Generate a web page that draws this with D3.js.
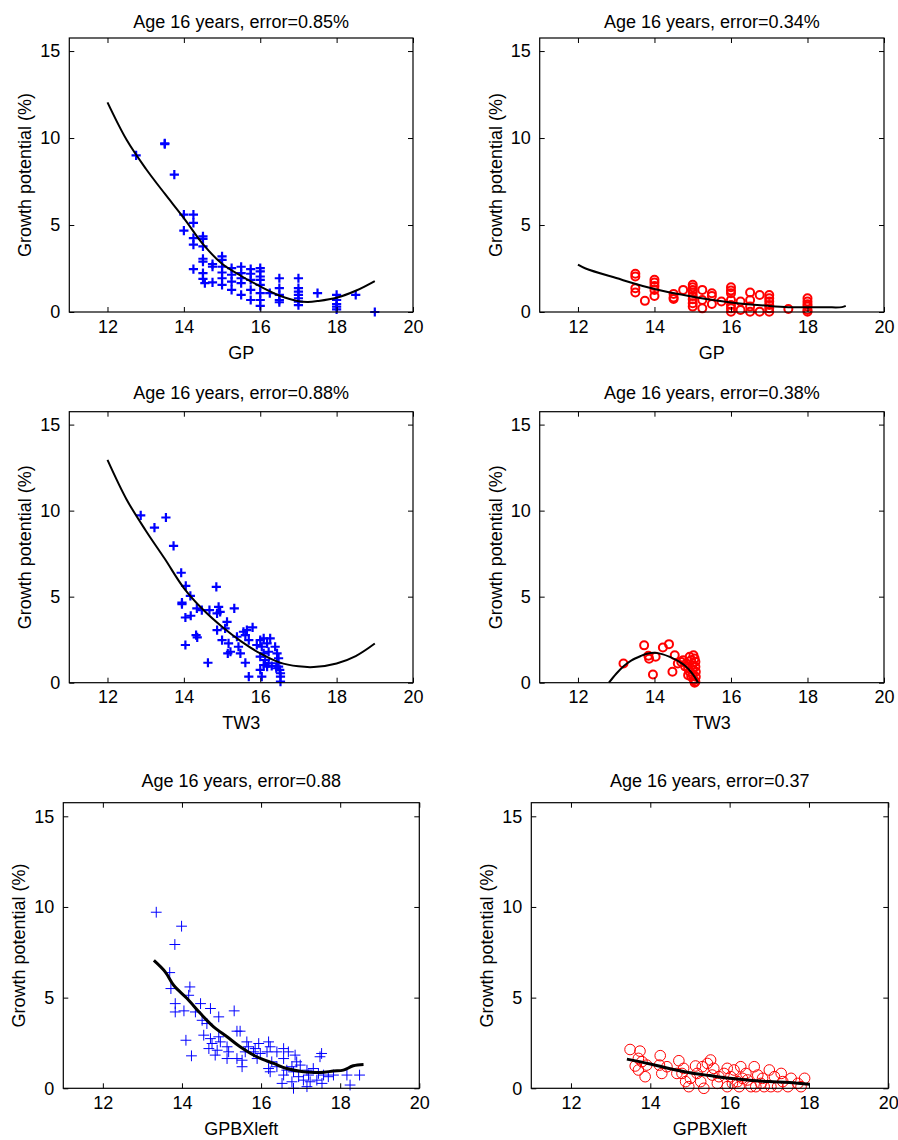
<!DOCTYPE html>
<html>
<head>
<meta charset="utf-8">
<script src="https://cdn.jsdelivr.net/npm/d3@7"></script>
<style>
  html, body { margin: 0; padding: 0; background: #fff; }
  svg { display: block; }
  text { font-family: "Liberation Sans", Arial, Helvetica, sans-serif; fill: #000; }
</style>
</head>
<body>
<svg id="chart" width="898" height="1140"></svg>
<script>
// ---------------- DATA ----------------
const xTicks = [12, 14, 16, 18, 20];
const yTicks = [0, 5, 10, 15];
const xDomain = [11, 20];
const yDomain = [0, 15.75];
const yAxisLabel = "Growth potential (%)";

const titles = [
  "Age 16 years, error=0.85%", "Age 16 years, error=0.34%",
  "Age 16 years, error=0.88%", "Age 16 years, error=0.38%",
  "Age 16 years, error=0.88",  "Age 16 years, error=0.37"
];
const xLabels = ["GP", "GP", "TW3", "TW3", "GPBXleft", "GPBXleft"];

// Panel 1: GP, blue +
const gpBlueX = [12.75,13.5,13.5,13.75,14,14,14.25,14.25,14.25,14.25,14.25,14.5,14.5,14.5,14.5,14.5,14.5,14.5,14.55,14.75,14.75,14.75,15,15,15,15,15,15,15.25,15.25,15.25,15.25,15.5,15.5,15.5,15.5,15.5,15.75,15.75,15.75,15.75,15.75,16,16,16,16,16,16,16,16,16.25,16.5,16.5,16.5,16.5,16.5,17,17,17,17,17,17,17,17.5,18,18,18,18,18,18.5,19];
const gpBlueY = [9.0,9.7,9.65,7.9,5.6,4.68,5.6,5.12,4.25,3.87,2.46,4.35,4.2,3.77,3.06,2.9,2.23,1.9,1.66,2.75,2.6,1.7,3.2,3.0,2.6,2.27,1.94,1.56,2.52,2.14,1.75,1.27,2.6,2.23,1.94,1.66,0.98,2.46,2.2,1.85,1.27,0.69,2.52,2.33,2.04,1.85,1.56,1.08,0.69,0.35,1.08,1.94,1.37,0.98,0.69,0.56,1.94,1.37,1.17,0.98,0.79,0.6,0.4,1.08,0.98,0.69,0.46,0.31,0.15,0.98,0.0];
const gpBlueFitX = [12, 12.5, 13, 13.5, 14, 14.5, 15, 15.5, 16, 16.5, 17, 17.25, 17.5, 18, 18.5, 19];
const gpBlueFitY = [12.05, 9.9, 8.25, 6.8, 5.4, 3.9, 2.77, 2.07, 1.47, 0.95, 0.62, 0.58, 0.63, 0.82, 1.22, 1.78];

// Panel 2: GP, red o
const gpRedX = [13.5,13.5,13.5,13.5,13.75,14,14,14,14,14,14.5,14.5,14.5,14.75,15,15,15,15,15,15,15,15,15.25,15.25,15.25,15.5,15.5,15.5,15.75,16,16,16,16,16,16,16,16.25,16.25,16.5,16.5,16.5,16.5,16.75,16.75,17,17,17,17,17,17,17.5,18,18,18,18,18,18];
const gpRedY = [2.2,2.04,1.37,1.12,0.64,1.85,1.69,1.5,1.27,0.92,1.04,0.83,0.75,1.27,1.56,1.42,1.27,1.12,0.92,0.73,0.5,0.31,1.27,0.69,0.21,1.08,0.92,0.46,0.6,1.42,1.23,1.08,0.69,0.4,0.21,0.02,0.6,0.12,1.12,0.69,0.31,0.02,0.98,0.02,0.98,0.79,0.6,0.4,0.21,0.02,0.17,0.79,0.6,0.44,0.31,0.12,0.02];
const gpRedFitX = [12, 12.2, 13, 14, 15, 16, 17, 17.5, 18, 18.5, 18.9, 19];
const gpRedFitY = [2.72, 2.5, 1.95, 1.32, 0.88, 0.55, 0.35, 0.28, 0.27, 0.27, 0.28, 0.35];

// Panel 3: TW3, blue +
const tw3BlueX = [12.87,13.53,13.23,13.73,13.93,14.05,14.85,14.17,13.95,13.95,14.34,14.47,14.67,14.91,14.95,15.32,14.04,14.18,14.32,14.35,14.04,14.63,14.87,14.87,15.13,15.08,15.0,15.17,15.15,15.22,15.39,15.43,15.48,15.56,15.61,15.65,15.7,15.8,15.61,15.7,15.91,16.0,16.04,16.09,16.18,16.09,16.22,16.0,16.13,16.09,16.22,16.0,16.04,16.26,16.39,16.44,16.48,16.44,16.48,16.51,16.53,16.53,16.53,16.42,16.3,16.18];
const tw3BlueY = [9.73,9.6,9.01,7.95,6.39,5.63,5.57,5.05,4.66,4.57,4.32,4.22,4.22,4.41,4.12,4.32,3.79,3.89,2.77,2.63,2.19,1.16,3.06,4.03,3.54,3.16,2.48,2.29,1.71,1.8,2.67,2.09,1.71,2.96,2.77,3.06,2.48,3.21,1.16,0.35,2.19,2.48,2.09,2.58,2.29,1.71,1.8,1.51,1.32,1.03,1.13,0.74,0.35,2.58,2.09,1.71,1.42,1.13,0.93,0.74,0.55,0.35,0.06,0.84,0.97,0.93];
const tw3BlueFitX = [12, 12.5, 13, 13.5, 14, 14.5, 15, 15.5, 16, 16.5, 17, 17.4, 18, 18.5, 19];
const tw3BlueFitY = [12.95, 10.65, 8.85, 7.2, 5.5, 4.25, 3.25, 2.4, 1.7, 1.18, 0.95, 0.91, 1.12, 1.55, 2.28];

// Panel 4: TW3, red o
const tw3RedX = [13.19,13.73,13.86,13.84,14.03,13.96,14.22,14.38,14.47,14.53,14.61,14.75,14.83,14.88,14.92,14.96,14.99,15.0,15.0,15.03,15.05,15.02,15.05,15.07,15.07,15.08,15.08,15.07,14.96,14.92,14.88,14.8,14.7];
const tw3RedY = [1.12,2.17,1.39,1.57,1.51,0.48,2.05,2.24,0.64,1.6,1.12,1.31,1.12,0.83,1.51,1.31,1.02,0.73,0.44,0.15,0.0,1.6,1.41,1.22,0.93,0.64,0.35,0.06,0.35,0.64,0.44,0.95,1.2];
const tw3RedFitX = [12.81, 13.0, 13.2, 13.4, 13.64, 13.8, 14.0, 14.2, 14.4, 14.6, 14.8, 15.0, 15.14];
const tw3RedFitY = [0, 0.52, 0.97, 1.3, 1.55, 1.68, 1.74, 1.66, 1.5, 1.28, 0.98, 0.5, 0];

// Panel 5: GPBXleft, blue +
const bxBlueX = [13.35,13.99,13.82,13.69,13.72,14.2,14.17,13.83,13.83,14.05,14.47,14.34,14.72,14.93,15.32,14.51,14.63,14.55,14.72,14.76,14.93,14.97,14.68,14.89,14.84,15.14,15.18,15.14,15.39,15.47,14.1,14.24,15.39,15.52,15.52,15.64,15.68,15.6,15.81,15.85,15.94,15.98,15.9,16.19,16.23,16.15,16.19,16.23,16.4,16.57,16.69,16.57,16.86,16.9,16.78,16.99,16.82,16.95,17.16,17.2,17.32,17.45,17.53,17.49,17.58,17.7,17.07,17.24,17.41,17.16,17.54,16.78,16.53,16.82,16.57,18.17,18.49,18.25,17.83,16.65,16.27,16.4];
const bxBlueY = [9.71,8.94,7.93,6.38,5.5,5.59,5.13,4.67,4.21,4.27,4.67,4.21,4.4,3.94,4.27,3.75,3.57,2.93,2.74,2.47,2.84,2.56,2.19,2.1,1.83,2.29,2.01,1.64,3.15,3.15,2.65,1.79,1.64,1.55,1.19,2.56,2.29,2.01,2.01,2.19,2.47,1.92,1.64,2.56,2.29,2.01,1.09,0.91,2.01,2.19,2.01,1.64,1.83,1.46,1.19,1.28,0.91,0.64,1.0,0.73,1.09,0.82,1.92,1.74,0.73,0.64,0.45,0.36,0.45,0.09,0.27,0.36,0.27,0.0,0.73,0.73,0.73,0.18,0.73,1.0,1.46,1.19];
const bxBlueFitX = [13.29, 13.58, 13.79, 14.13, 14.47, 14.8, 15.14, 15.47, 15.89, 16.32, 16.65, 17.07, 17.49, 17.83, 18.08, 18.33, 18.59];
const bxBlueFitY = [7.05, 6.41, 5.68, 4.95, 4.12, 3.39, 2.84, 2.29, 1.74, 1.37, 1.09, 0.91, 0.87, 0.95, 1.0, 1.24, 1.31];

// Panel 6: GPBXleft, red o
const bxRedX = [13.49,13.74,13.7,13.79,13.62,13.91,13.7,13.87,14.25,14.23,14.42,14.29,14.72,14.8,14.89,15.01,14.97,15.14,15.31,15.18,15.27,15.35,15.44,15.52,15.6,15.56,15.69,15.86,15.94,16.03,16.11,16.2,16.24,16.28,16.41,16.45,16.54,16.62,16.71,16.79,16.83,17.0,17.04,17.13,17.3,17.34,17.47,17.55,17.8,17.89,14.67,14.84,15.73,15.94,16.07,16.32,16.66,16.87,17.21,17.72];
const bxRedY = [2.14,2.05,1.65,1.47,1.23,1.28,1.01,0.64,1.8,1.28,1.19,0.82,1.52,0.82,0.37,0.55,0.09,1.23,1.19,0.82,0.37,0.0,1.37,1.56,1.1,0.73,0.27,0.82,1.1,0.64,1.01,0.37,0.09,1.19,0.82,0.46,0.09,1.19,0.73,0.27,0.55,1.01,0.09,0.64,0.82,0.37,0.09,0.55,0.09,0.55,0.82,1.1,0.64,0.09,0.27,0.55,0.09,0.09,0.09,0.27];
const bxRedFitX = [13.41, 14, 14.5, 15, 15.5, 16, 16.5, 17, 17.5, 18.02];
const bxRedFitY = [1.61, 1.34, 1.08, 0.86, 0.7, 0.55, 0.44, 0.37, 0.32, 0.22];

// ---------------- PANELS ----------------
const panels = [
  {xs: gpBlueX, ys: gpBlueY, fx: gpBlueFitX, fy: gpBlueFitY, marker: "plus", color: "#0000ff", bold: true},
  {xs: gpRedX, ys: gpRedY, fx: gpRedFitX, fy: gpRedFitY, marker: "circle", color: "#ff0000", bold: true},
  {xs: tw3BlueX, ys: tw3BlueY, fx: tw3BlueFitX, fy: tw3BlueFitY, marker: "plus", color: "#0000ff", bold: true},
  {xs: tw3RedX, ys: tw3RedY, fx: tw3RedFitX, fy: tw3RedFitY, marker: "circle", color: "#ff0000", bold: true},
  {xs: bxBlueX, ys: bxBlueY, fx: bxBlueFitX, fy: bxBlueFitY, marker: "plus", color: "#0000ff", bold: false},
  {xs: bxRedX, ys: bxRedY, fx: bxRedFitX, fy: bxRedFitY, marker: "circle", color: "#ff0000", bold: false}
];
// layout boxes (pixels)
const boxes = [
  {l: 69.3, r: 413, t: 38, b: 312, tOff: 10.5},
  {l: 539.7, r: 884, t: 38, b: 312, tOff: 10.5},
  {l: 69.3, r: 413, t: 411.7, b: 682.7, tOff: 12.7},
  {l: 539.7, r: 884, t: 411.7, b: 682.7, tOff: 12.7},
  {l: 63.3, r: 419.3, t: 802.7, b: 1088.3, tOff: 15.7},
  {l: 531.3, r: 888.3, t: 802.7, b: 1088.3, tOff: 15.7}
];

const svg = d3.select("#chart");
const FS = 18;
const tickLen = 5;

panels.forEach((p, i) => {
  const bx = boxes[i];
  const x = d3.scaleLinear().domain(xDomain).range([bx.l, bx.r]);
  const y = d3.scaleLinear().domain(yDomain).range([bx.b, bx.t]);
  const g = svg.append("g");

  // data markers
  const mg = g.append("g");
  const pts = p.xs.map((v, k) => [v, p.ys[k]]);
  if (p.marker === "plus") {
    const h = p.bold ? 4.6 : 5.4;
    mg.selectAll("path").data(pts).join("path")
      .attr("d", d => {
        const cx = x(d[0]), cy = y(d[1]);
        return `M${cx - h},${cy}H${cx + h}M${cx},${cy - h}V${cy + h}`;
      })
      .attr("stroke", p.color)
      .attr("stroke-width", p.bold ? 2.2 : 1)
      .attr("fill", "none");
  } else {
    mg.selectAll("circle").data(pts).join("circle")
      .attr("cx", d => x(d[0]))
      .attr("cy", d => y(d[1]))
      .attr("r", p.bold ? 4 : 5.3)
      .attr("stroke", p.color)
      .attr("stroke-width", p.bold ? 2 : 1)
      .attr("fill", "none");
  }

  // fit curve
  const line = d3.line().x(d => x(d[0])).y(d => y(d[1])).curve(d3.curveCatmullRom.alpha(0.5));
  g.append("path")
    .datum(p.fx.map((v, k) => [v, p.fy[k]]))
    .attr("d", line)
    .attr("fill", "none")
    .attr("stroke", "#000")
    .attr("stroke-width", p.bold ? 2 : 3);

  // box
  g.append("rect")
    .attr("x", bx.l).attr("y", bx.t)
    .attr("width", bx.r - bx.l).attr("height", bx.b - bx.t)
    .attr("fill", "none").attr("stroke", "#000").attr("stroke-width", 1.2);

  // axes with inward ticks
  const xb = g.append("g").attr("transform", `translate(0,${bx.b})`)
    .call(d3.axisBottom(x).tickValues(xTicks).tickSize(-tickLen).tickPadding(tickLen + 3).tickFormat(d3.format("d")));
  const xt = g.append("g").attr("transform", `translate(0,${bx.t})`)
    .call(d3.axisTop(x).tickValues(xTicks).tickSize(-tickLen).tickFormat(""));
  const yl = g.append("g").attr("transform", `translate(${bx.l},0)`)
    .call(d3.axisLeft(y).tickValues(yTicks).tickSize(-tickLen).tickPadding(tickLen + 4).tickFormat(d3.format("d")));
  const yr = g.append("g").attr("transform", `translate(${bx.r},0)`)
    .call(d3.axisRight(y).tickValues(yTicks).tickSize(-tickLen).tickFormat(""));
  [xb, xt, yl, yr].forEach(a => {
    a.select(".domain").remove();
    a.selectAll("line").attr("stroke", "#000").attr("stroke-width", 1);
    a.selectAll("text").attr("font-size", FS).attr("font-family", "Liberation Sans, Arial, sans-serif").attr("fill", "#000");
  });
  xb.selectAll("text").attr("dy", null).attr("y", 21 - 0).attr("dominant-baseline", "auto")
    .attr("transform", `translate(0,0)`);
  xb.selectAll("text").attr("y", 20.5);

  // title
  g.append("text")
    .attr("x", (bx.l + bx.r) / 2)
    .attr("y", bx.t - bx.tOff)
    .attr("text-anchor", "middle")
    .attr("font-size", FS)
    .text(titles[i]);

  // x label
  g.append("text")
    .attr("x", (bx.l + bx.r) / 2)
    .attr("y", bx.b + 46.5)
    .attr("text-anchor", "middle")
    .attr("font-size", FS)
    .text(xLabels[i]);

  // y label
  const ylx = bx.l - 44.5 + 6.5;
  const ylc = (bx.t + bx.b) / 2;
  g.append("text")
    .attr("transform", `translate(${ylx},${ylc}) rotate(-90)`)
    .attr("text-anchor", "middle")
    .attr("font-size", FS)
    .text(yAxisLabel);
});
</script>
</body>
</html>
